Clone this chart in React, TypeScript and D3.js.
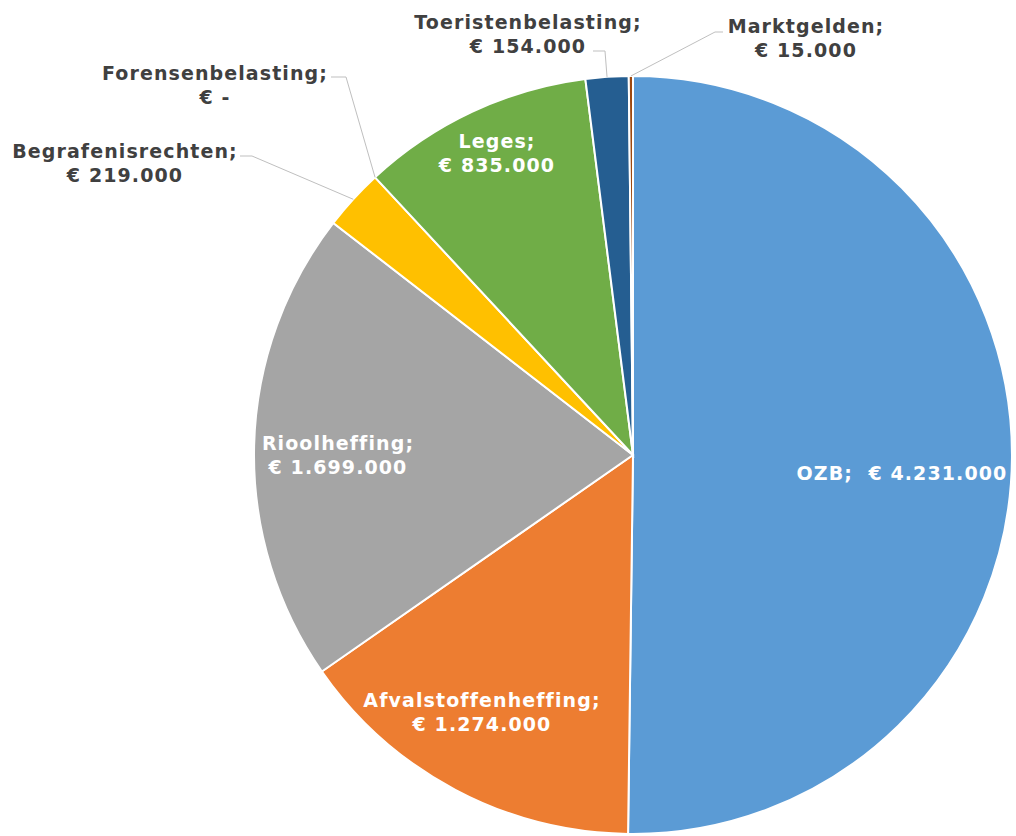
import { pie, arc, PieArcDatum } from "d3";

const categories = [
  "OZB",
  "Afvalstoffenheffing",
  "Rioolheffing",
  "Begrafenisrechten",
  "Forensenbelasting",
  "Leges",
  "Toeristenbelasting",
  "Marktgelden",
];
const values = [4231000, 1274000, 1699000, 219000, 0, 835000, 154000, 15000];
const valueLabels = [
  "€ 4.231.000",
  "€ 1.274.000",
  "€ 1.699.000",
  "€ 219.000",
  "€ -",
  "€ 835.000",
  "€ 154.000",
  "€ 15.000",
];
const colors = [
  "#5b9bd5",
  "#ed7d31",
  "#a5a5a5",
  "#ffc000",
  "#4472c4",
  "#70ad47",
  "#255e91",
  "#9e480e",
];

const width = 1016;
const height = 836;
const cx = 633;
const cy = 455;
const radius = 379;

// label placement (excel "best fit"), per category
// inside: text centre; outside: text block + leader line start/elbow
const layout: Record<string, any> = {
  OZB: { x: 902, y: 480, oneLine: true, inside: true },
  Afvalstoffenheffing: { x: 482, y: 707, inside: true },
  Rioolheffing: { x: 338, y: 450, inside: true },
  Leges: { x: 497, y: 148, inside: true },
  Begrafenisrechten: { x: 125, y: 158, lx: 240, ly: 156, elbow: 252 },
  Forensenbelasting: { x: 215, y: 80, lx: 331, ly: 77, elbow: 346 },
  Toeristenbelasting: { x: 528, y: 29, lx: 593, ly: 51, elbow: 605 },
  Marktgelden: { x: 806, y: 33, lx: 723, ly: 32, elbow: 715 },
};

type Slice = { name: string; value: number; label: string; color: string };

const data: Slice[] = categories.map((name, i) => ({
  name,
  value: values[i],
  label: valueLabels[i],
  color: colors[i],
}));

const pieGen = pie<Slice>()
  .value((d) => d.value)
  .sort(null);

const arcGen = arc<PieArcDatum<Slice>>().innerRadius(0).outerRadius(radius);

const App = () => {
  const arcs = pieGen(data);
  const lineHeight = 24;
  return (
    <svg
      width={width}
      height={height}
      style={{ position: "absolute", left: 0, top: 0, background: "#fff" }}
      fontFamily="'DejaVu Sans', Verdana, sans-serif"
      fontWeight="bold"
      fontSize={19}
      letterSpacing={1.1}
    >
      <g transform={`translate(${cx},${cy})`}>
        {arcs.map((a, i) =>
          a.value > 0 ? (
            <path
              key={i}
              d={arcGen(a) || ""}
              fill={a.data.color}
              stroke="#fff"
              strokeWidth={2}
            />
          ) : null
        )}
      </g>
      {arcs.map((a, i) => {
        const l = layout[a.data.name];
        const mid = (a.startAngle + a.endAngle) / 2;
        const px = cx + radius * Math.sin(mid);
        const py = cy - radius * Math.cos(mid);
        const fill = l.inside ? "#fff" : "#404040";
        return (
          <g key={i}>
            {!l.inside && (
              <polyline
                points={`${l.lx},${l.ly} ${l.elbow},${l.ly} ${px},${py}`}
                fill="none"
                stroke="#bfbfbf"
                strokeWidth={1}
              />
            )}
            {l.oneLine ? (
              <text
                x={l.x}
                y={l.y}
                textAnchor="middle"
                fill={fill}
                style={{ whiteSpace: "pre" }}
              >
                {`${a.data.name};  ${a.data.label}`}
              </text>
            ) : (
              <text x={l.x} y={l.y} textAnchor="middle" fill={fill}>
                <tspan x={l.x}>{a.data.name};</tspan>
                <tspan x={l.x} dy={lineHeight}>
                  {a.data.label}
                </tspan>
              </text>
            )}
          </g>
        );
      })}
    </svg>
  );
};

export default App;
